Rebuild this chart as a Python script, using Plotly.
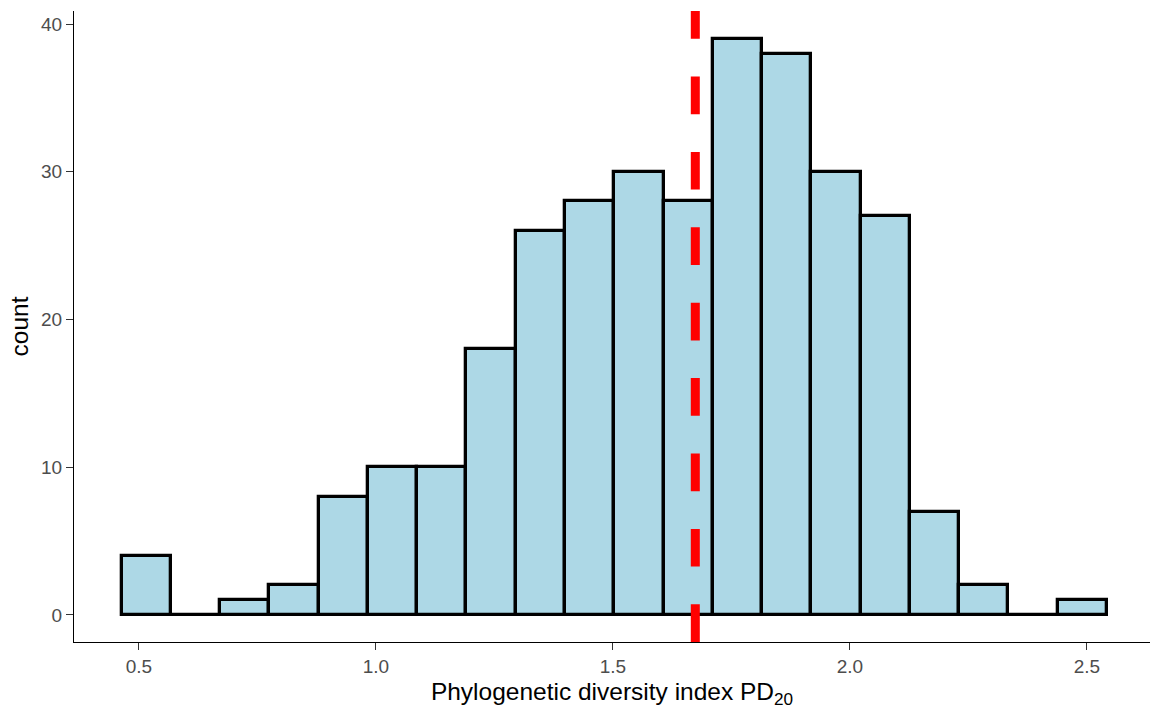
import plotly.graph_objects as go

# Histogram bins (centres) and counts
bin_centers = [0.5155, 0.6194, 0.7233, 0.8272, 0.9312, 1.0351, 1.1390, 1.2429,
               1.3469, 1.4508, 1.5547, 1.6586, 1.7625, 1.8665, 1.9704, 2.0743,
               2.1782, 2.2822, 2.3861, 2.4900]
counts = [4, 0, 1, 2, 8, 10, 10, 18, 26, 28, 30, 28, 39, 38, 30, 27, 7, 2, 0, 1]
bin_width = 0.10392
mean_value = 1.6737

x_ticks = [0.5, 1.0, 1.5, 2.0, 2.5]
x_tick_labels = ["0.5", "1.0", "1.5", "2.0", "2.5"]
y_ticks = [0, 10, 20, 30, 40]
y_tick_labels = ["0", "10", "20", "30", "40"]

fig = go.Figure()
fig.add_trace(go.Bar(
    x=bin_centers, y=counts, width=[bin_width] * len(counts),
    marker=dict(color="#ADD8E6", line=dict(color="black", width=3.3)),
    showlegend=False, hoverinfo="x+y",
))

fig.add_shape(type="line", xref="x", yref="paper",
              x0=mean_value, x1=mean_value, y0=0, y1=1,
              line=dict(color="#FF0000", width=9, dash="37.7px,37.7px"))

font_family = "Liberation Sans, Arial, sans-serif"
fig.update_layout(
    width=1150, height=709,
    margin=dict(l=74, r=0, t=11, b=67),
    plot_bgcolor="white", paper_bgcolor="white",
    bargap=0,
    font=dict(family=font_family, color="black"),
    xaxis=dict(
        range=[0.3629, 2.633],
        tickvals=x_ticks, ticktext=x_tick_labels,
        showgrid=False, zeroline=False,
        showline=True, linecolor="black", linewidth=1.2,
        ticks="outside", ticklen=7, tickwidth=1.2, tickcolor="#333333",
        tickfont=dict(size=19, color="#4D4D4D", family=font_family),
        title=dict(text="Phylogenetic diversity index PD<sub>20</sub>",
                   font=dict(size=24.5, color="black", family=font_family),
                   standoff=7),
    ),
    yaxis=dict(
        range=[-1.83, 40.88],
        tickvals=y_ticks, ticktext=y_tick_labels,
        showgrid=False, zeroline=False,
        showline=True, linecolor="black", linewidth=1.2,
        ticks="outside", ticklen=7, tickwidth=1.2, tickcolor="#333333",
        tickfont=dict(size=19, color="#4D4D4D", family=font_family),
        title=dict(text="count",
                   font=dict(size=24.5, color="black", family=font_family),
                   standoff=5),
    ),
)

fig.write_html("out.html", config={"displayModeBar": False},
               post_script="document.body.style.margin='0px';document.body.style.overflow='hidden';")
